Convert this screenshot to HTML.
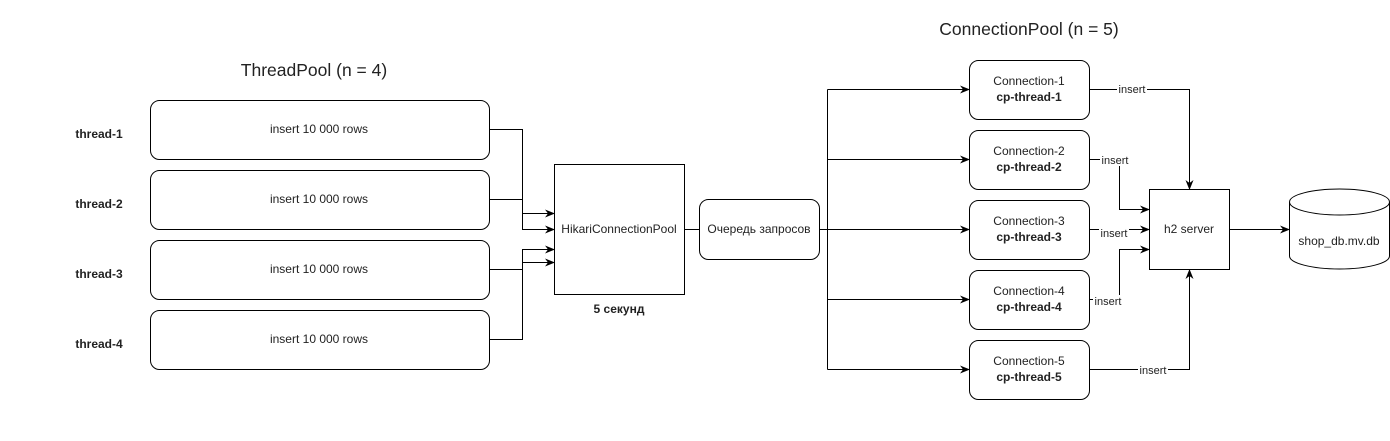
<!DOCTYPE html>
<html><head><meta charset="utf-8"><style>
body{margin:0;background:#fff;}
svg text{font-family:"Liberation Sans",Arial,sans-serif;fill:#222;}
</style></head><body>
<svg width="1390" height="436" xmlns="http://www.w3.org/2000/svg">
<defs><marker id="a" markerWidth="10" markerHeight="8" refX="9" refY="4" orient="auto" markerUnits="userSpaceOnUse"><path d="M0,0 L10,4 L0,8 L3,4 Z" fill="#000"/></marker></defs>
<g font-size="17.5" text-anchor="middle">
<text x="314" y="76">ThreadPool (n = 4)</text>
<text x="1029" y="35">ConnectionPool (n = 5)</text>
</g>
<g fill="#fff" stroke="#000" stroke-width="1">
<rect x="150.5" y="100.5" width="339" height="59" rx="9"/>
<rect x="150.5" y="170.5" width="339" height="59" rx="9"/>
<rect x="150.5" y="240.5" width="339" height="59" rx="9"/>
<rect x="150.5" y="310.5" width="339" height="59" rx="9"/>
<rect x="554.5" y="164.5" width="130" height="130"/>
<rect x="699.5" y="199.5" width="120" height="60" rx="9"/>
<rect x="969.5" y="60.5" width="120" height="59" rx="9"/>
<rect x="969.5" y="130.5" width="120" height="59" rx="9"/>
<rect x="969.5" y="200.5" width="120" height="59" rx="9"/>
<rect x="969.5" y="270.5" width="120" height="59" rx="9"/>
<rect x="969.5" y="340.5" width="120" height="59" rx="9"/>
<rect x="1149.5" y="189.5" width="80" height="80"/>
<path d="M1289.5,202 A50,13 0 0 1 1389.5,202 L1389.5,256 A50,13 0 0 1 1289.5,256 Z"/>
<path d="M1289.5,202 A50,13 0 0 0 1389.5,202" fill="none"/>
</g>
<g fill="none" stroke="#000" stroke-width="1">
<path d="M489,129.5H522.5V213.5H554" marker-end="url(#a)"/>
<path d="M489,199.5H522.5V229.5H554" marker-end="url(#a)"/>
<path d="M489,269.5H522.5V249.5H554" marker-end="url(#a)"/>
<path d="M489,339.5H522.5V262.5H554" marker-end="url(#a)"/>
<path d="M684,229.5H699"/>
<path d="M819,229.5H827.5"/>
<path d="M827.5,89.5V369.5"/>
<path d="M827.5,89.5H969" marker-end="url(#a)"/>
<path d="M827.5,159.5H969" marker-end="url(#a)"/>
<path d="M827.5,229.5H969" marker-end="url(#a)"/>
<path d="M827.5,299.5H969" marker-end="url(#a)"/>
<path d="M827.5,369.5H969" marker-end="url(#a)"/>
<path d="M1089,89.5H1189.5V189" marker-end="url(#a)"/>
<path d="M1089,159.5H1119.5V209.5H1149" marker-end="url(#a)"/>
<path d="M1089,229.5H1149" marker-end="url(#a)"/>
<path d="M1089,299.5H1119.5V249.5H1149" marker-end="url(#a)"/>
<path d="M1089,369.5H1189.5V270" marker-end="url(#a)"/>
<path d="M1229,229.5H1289" marker-end="url(#a)"/>
</g>
<g font-size="12" text-anchor="middle">
<g font-weight="bold"><text x="99" y="138">thread-1</text><text x="99" y="208">thread-2</text><text x="99" y="278">thread-3</text><text x="99" y="348">thread-4</text>
<text x="619" y="313">5 секунд</text></g>
<text x="319" y="133">insert 10 000 rows</text><text x="319" y="203">insert 10 000 rows</text><text x="319" y="273">insert 10 000 rows</text><text x="319" y="343">insert 10 000 rows</text>
<text x="619" y="233">HikariConnectionPool</text>
<text x="759" y="233">Очередь запросов</text>
<text x="1029" y="85">Connection-1</text><text x="1029" y="101" font-weight="bold">cp-thread-1</text>
<text x="1029" y="155">Connection-2</text><text x="1029" y="171" font-weight="bold">cp-thread-2</text>
<text x="1029" y="225">Connection-3</text><text x="1029" y="241" font-weight="bold">cp-thread-3</text>
<text x="1029" y="295">Connection-4</text><text x="1029" y="311" font-weight="bold">cp-thread-4</text>
<text x="1029" y="365">Connection-5</text><text x="1029" y="381" font-weight="bold">cp-thread-5</text>
<text x="1189" y="233">h2 server</text>
<text x="1339" y="245">shop_db.mv.db</text>
</g>
<g font-size="11" text-anchor="middle">
<rect x="1117" y="83" width="30" height="12" fill="#fff"/><text x="1132" y="93">insert</text>
<rect x="1100" y="154" width="30" height="12" fill="#fff"/><text x="1115" y="164">insert</text>
<rect x="1099" y="228" width="30" height="12" fill="#fff"/><text x="1114" y="237">insert</text>
<rect x="1093" y="295" width="30" height="12" fill="#fff"/><text x="1108" y="305">insert</text>
<rect x="1138" y="364" width="30" height="12" fill="#fff"/><text x="1153" y="374">insert</text>
</g>
</svg>
</body></html>
